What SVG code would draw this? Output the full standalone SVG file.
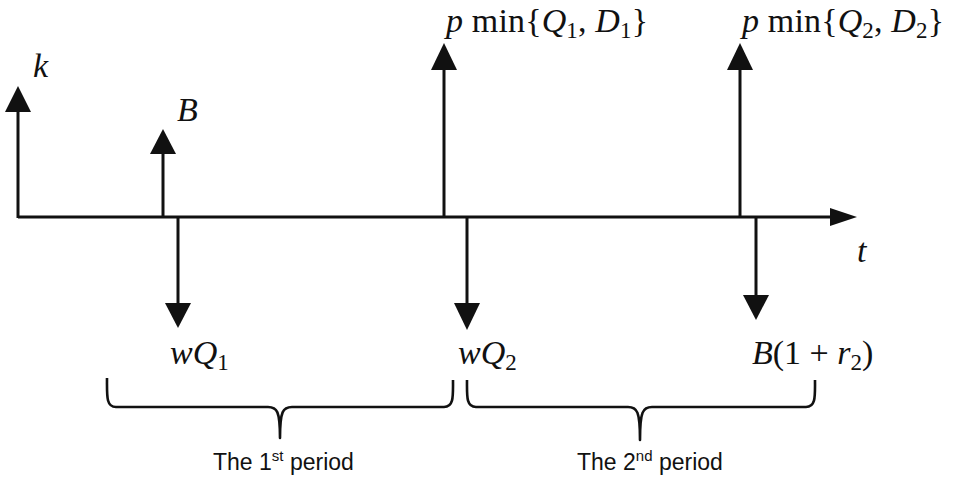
<svg xmlns="http://www.w3.org/2000/svg" width="955" height="487" viewBox="0 0 955 487">
<style>
.ln{stroke:#111;stroke-width:3;fill:none}
.hd{fill:#111}
.br{stroke:#111;stroke-width:2.6;fill:none;stroke-linejoin:round}
.m{font-family:"Liberation Serif",serif;font-size:34px;fill:#111}
.i{font-style:italic}
.s{font-size:23px}
.p{font-family:"Liberation Sans",sans-serif;font-size:23px;fill:#111}
.sup{font-size:15px}
</style>
<rect width="955" height="487" fill="#fff"/>
<g id="connectors">
<line class="ln" x1="18" y1="217" x2="834" y2="217"/>
<polygon class="hd" points="830,208 857,217 830,226"/>
<line class="ln" x1="18" y1="218" x2="18" y2="108"/>
<polygon class="hd" points="5,112 18,86 31,112"/>
<line class="ln" x1="163" y1="217" x2="163" y2="150"/>
<polygon class="hd" points="150,154 163,129 176,154"/>
<line class="ln" x1="444" y1="217" x2="444" y2="66"/>
<polygon class="hd" points="431,70 444,43 457,70"/>
<line class="ln" x1="740" y1="217" x2="740" y2="66"/>
<polygon class="hd" points="727,70 740,43 753,70"/>
<line class="ln" x1="178" y1="217" x2="178" y2="306"/>
<polygon class="hd" points="165,303 178,328 191,303"/>
<line class="ln" x1="467" y1="217" x2="467" y2="306"/>
<polygon class="hd" points="454,303 467,330 480,303"/>
<line class="ln" x1="756" y1="217" x2="756" y2="298"/>
<polygon class="hd" points="743,295 756,320 769,295"/>
</g>
<g id="k"><text class="m i" x="33" y="77">k</text></g>
<g id="t"><text class="m i" x="857" y="262">t</text></g>
<g id="B"><text class="m i" x="177" y="121">B</text></g>
<g id="revenue1"><text class="m" x="446" y="32" textLength="202" lengthAdjust="spacing"><tspan class="i">p</tspan> min{<tspan class="i">Q</tspan><tspan class="s" dy="6">1</tspan><tspan dy="-6">, </tspan><tspan class="i">D</tspan><tspan class="s" dy="6">1</tspan><tspan dy="-6">}</tspan></text></g>
<g id="revenue2"><text class="m" x="742" y="32" textLength="202" lengthAdjust="spacing"><tspan class="i">p</tspan> min{<tspan class="i">Q</tspan><tspan class="s" dy="6">2</tspan><tspan dy="-6">, </tspan><tspan class="i">D</tspan><tspan class="s" dy="6">2</tspan><tspan dy="-6">}</tspan></text></g>
<g id="wQ1"><text class="m i" x="170" y="364">wQ<tspan class="s" font-style="normal" dy="6">1</tspan></text></g>
<g id="wQ2"><text class="m i" x="458" y="364">wQ<tspan class="s" font-style="normal" dy="6">2</tspan></text></g>
<g id="repay"><text class="m" x="752" y="364"><tspan class="i">B</tspan>(1 + <tspan class="i">r</tspan><tspan class="s" dy="6">2</tspan><tspan dy="-6">)</tspan></text></g>
<g id="period1">
<path class="br" d="M107,378 C107,396 106,407 116,407 L268,407 C277,407 280,411 280,438 C280,411 283,407 292,407 L444,407 C454,407 453,396 453,380"/>
<text class="p" x="213" y="470">The 1<tspan class="sup" dy="-9">st</tspan><tspan dy="9"> period</tspan></text>
</g>
<g id="period2">
<path class="br" d="M467,380 C467,396 466,407 476,407 L628,407 C637,407 640,411 640,440 C640,411 643,407 652,407 L806,407 C816,407 815,396 815,380"/>
<text class="p" x="577" y="470">The 2<tspan class="sup" dy="-9">nd</tspan><tspan dy="9"> period</tspan></text>
</g>
</svg>
